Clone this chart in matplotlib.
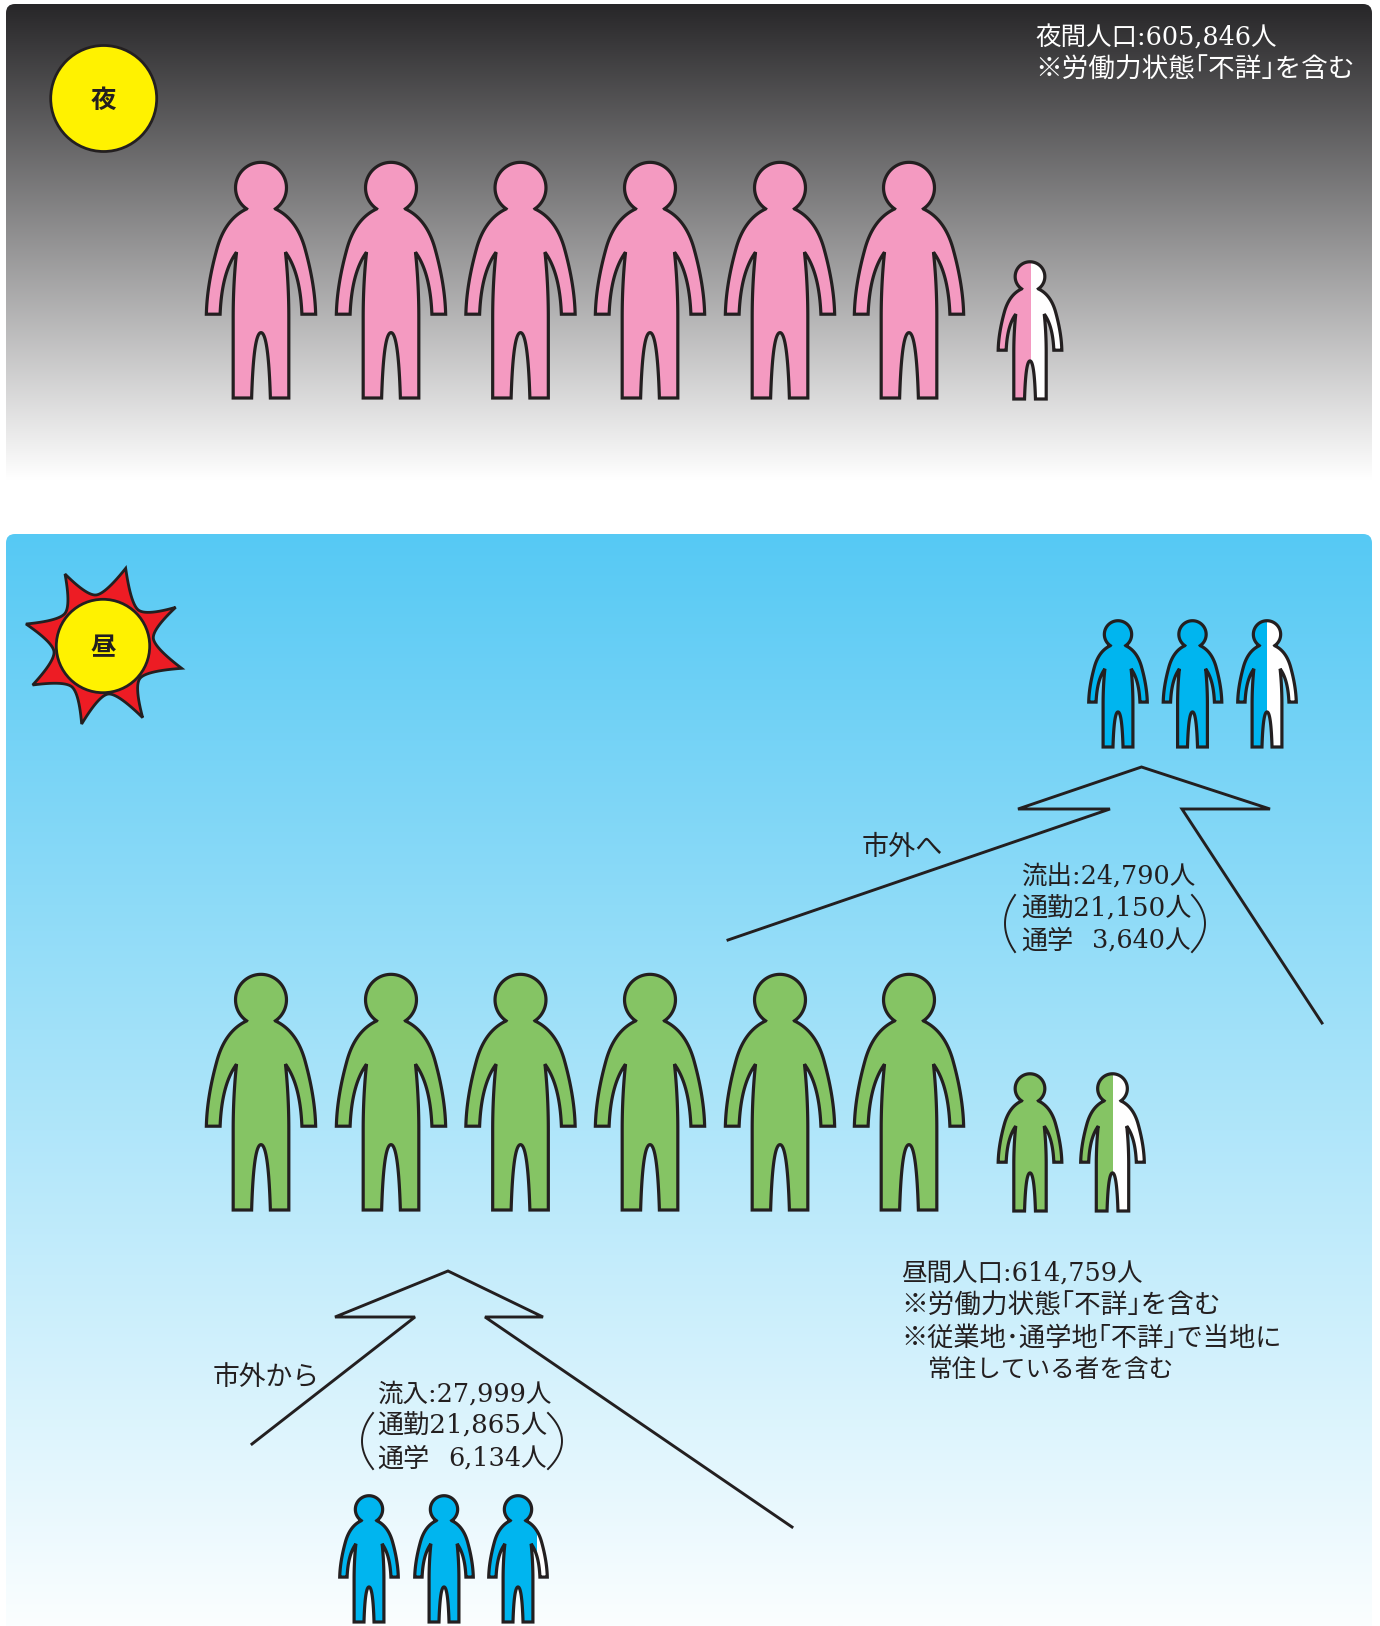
import numpy as np
import matplotlib
matplotlib.use('Agg')
import matplotlib.pyplot as plt
from matplotlib.path import Path
from matplotlib.patches import PathPatch, Circle, Rectangle, FancyBboxPatch

plt.rcParams['font.family'] = ['DejaVu Serif', 'Noto Sans CJK JP']

# How much of each icon is coloured (big icon = 100,000, small icon = 10,000)
night_big = [1, 1, 1, 1, 1, 1]
night_small = [0.51]
day_big = [1, 1, 1, 1, 1, 1]
day_small = [1, 0.50]
outflow_icons = [1, 1, 0.50]
inflow_icons = [1, 1, 0.82]

# halfwidth brackets and dot, the reference sets them narrow
night_labels = ['夜間人口:605,846人', '※労働力状態｢不詳｣を含む']
day_labels = ['昼間人口:614,759人', '※労働力状態｢不詳｣を含む',
              '※従業地･通学地｢不詳｣で当地に', '常住している者を含む']
outflow_labels = ['流出:24,790人', '通勤21,150人', '通学', '3,640人']
inflow_labels = ['流入:27,999人', '通勤21,865人', '通学', '6,134人']

INK = '#231f20'
PINK = '#f49ac1'
GREEN = '#85c464'
BLUE = '#00b5ef'
FONT = 18.4
LW = 2.3


def qbez(p0, c, p1, n=24):
    t = np.linspace(0, 1, n)[:, None]
    p0, c, p1 = np.array(p0, float), np.array(c, float), np.array(p1, float)
    return (1 - t) ** 2 * p0 + 2 * t * (1 - t) * c + t ** 2 * p1


def person_outline():
    # right half traced off the big icon, measured in 3x pixels from top centre
    cx, cy, r = 0, 80, 76
    neck = np.array([43, 143])
    a0 = np.arctan2(neck[1] - cy, neck[0] - cx)
    ang = np.linspace(-np.pi / 2, a0, 40)
    head = np.column_stack([cx + r * np.cos(ang), cy + r * np.sin(ang)])
    parts = [
        head,
        qbez((43, 143), (105, 172), (130, 257)),
        qbez((130, 257), (161, 367), (163, 457)),
        np.array([[122, 457]]),
        qbez((122, 457), (117, 332), (73, 272)),
        qbez((73, 272), (83, 367), (83, 467)),
        np.array([[83, 707], [28, 707]]),
        qbez((28, 707), (22, 512), (0, 512)),
    ]
    right = np.vstack(parts)
    left = right[::-1].copy()
    left[:, 0] *= -1
    return np.vstack([right, left[1:-1]]) / 3.0


OUTLINE = person_outline()


def draw_person(ax, x, top, height, color, fill=1.0, lw=LW):
    s = height / (707 / 3.0)
    pts = OUTLINE * s + [x, top]
    closed = np.vstack([pts, pts[0]])
    path = Path(closed, closed=True)
    ax.add_patch(PathPatch(path, fc='white', ec='none', zorder=3))
    body = PathPatch(path, fc=color, ec='none', zorder=4)
    ax.add_patch(body)
    if fill < 1:
        x0, x1 = pts[:, 0].min(), pts[:, 0].max()
        clip = Rectangle((x0 - 1, top - 1), (x1 - x0) * fill + 1, height + 2,
                         transform=ax.transData)
        body.set_clip_path(clip)
    ax.add_patch(PathPatch(path, fc='none', ec=INK, lw=lw, zorder=5,
                           joinstyle='miter'))


def draw_row(ax, xs, top, height, color, fills):
    for x, f in zip(xs, fills):
        draw_person(ax, x, top, height, color, f)


def gradient_panel(ax, x0, y0, x1, y1, top_color, bottom_color):
    c0 = np.array(matplotlib.colors.to_rgb(top_color))
    c1 = np.array(matplotlib.colors.to_rgb(bottom_color))
    t = np.linspace(0, 1, 512)[:, None, None]
    img = c0[None, None, :] * (1 - t) + c1[None, None, :] * t
    im = ax.imshow(img, extent=(x0, x1, y1, y0), aspect='auto', zorder=1,
                   interpolation='bilinear')
    box = FancyBboxPatch((x0 + 9, y0 + 9), x1 - x0 - 18, y1 - y0 - 9 + 40,
                         boxstyle='round,pad=9,rounding_size=9', fc='none',
                         ec='none', transform=ax.transData)
    ax.add_patch(box)
    im.set_clip_path(box)


def draw_paren(ax, x_near, x_far, y0, y1):
    curve = qbez((x_near, y0), (2 * x_far - x_near, (y0 + y1) / 2), (x_near, y1))
    ax.plot(curve[:, 0], curve[:, 1], color=INK, lw=1.4, zorder=6)


def draw_sun(ax):
    peaks = np.array([(347, 55), (497, 172), (515, 355), (398, 503),
                      (215, 522), (68, 405), (48, 222), (165, 72)], float)
    valleys = np.array([(385, 180), (430, 265), (390, 385), (295, 432),
                        (185, 410), (132, 305), (165, 190), (258, 135)], float)
    pts = []
    for i in range(8):
        p0, p1, v = peaks[i], peaks[(i + 1) % 8], valleys[i]
        # flat through the valley, then nearly straight out to the points
        tangent = (p1 - p0) * 0.15
        pts.append(qbez(p0, v - tangent, v, 14))
        pts.append(qbez(v, v + tangent, p1, 14))
    pts = np.vstack(pts) / 3.0 + [10, 550]
    pts = np.vstack([pts, pts[0]])
    ax.add_patch(PathPatch(Path(pts, closed=True), fc='#ed1c24', ec=INK, lw=2.0,
                           zorder=3, joinstyle='miter'))
    ax.add_patch(Circle((103, 646), 46.7, fc='#fff200', ec=INK, lw=2.0, zorder=4))
    ax.text(103, 648, '昼', fontsize=FONT, fontweight='bold', color=INK,
            family='Noto Sans CJK JP', ha='center', va='center', zorder=6)


def txt(ax, x, y, s, color=INK, ha='left', size=FONT):
    ax.text(x, y + 2, s, fontsize=size, color=color, ha=ha, va='center', zorder=6)


def main():
    fig = plt.figure(figsize=(13.8, 16.26), dpi=100)
    ax = fig.add_axes([0, 0, 1, 1])

    gradient_panel(ax, 6, 4, 1372, 480, '#272628', '#ffffff')
    gradient_panel(ax, 6, 534, 1372, 1626, '#56c9f4', '#fbfeff')

    big_xs = [261, 391, 520.5, 650, 780, 909]

    # night
    ax.add_patch(Circle((103.7, 98.5), 53, fc='#fff200', ec=INK, lw=2.0, zorder=4))
    ax.text(103.7, 100.5, '夜', fontsize=FONT, fontweight='bold', color=INK,
            family='Noto Sans CJK JP', ha='center', va='center', zorder=6)
    draw_row(ax, big_xs, 161, 237, PINK, night_big)
    draw_row(ax, [1030], 261, 138, PINK, night_small)
    txt(ax, 1035, 36, night_labels[0], 'white')
    txt(ax, 1035, 68, night_labels[1], 'white', size=19.15)

    # day
    draw_sun(ax)
    draw_row(ax, big_xs, 973, 237, GREEN, day_big)
    draw_row(ax, [1030, 1112.5], 1073, 138, GREEN, day_small)
    txt(ax, 901, 1272, day_labels[0])
    txt(ax, 901, 1304, day_labels[1], size=19.15)
    txt(ax, 901, 1336, day_labels[2], size=18.9)
    txt(ax, 928, 1368, day_labels[3], size=17.7)

    # outflow
    draw_row(ax, [1118, 1192.5, 1267], 620, 127, BLUE, outflow_icons)
    ax.plot([728, 1110, 1018, 1141.5, 1270, 1182, 1322],
            [940, 809, 809, 767, 809, 809, 1023], color=INK, lw=2.1, zorder=2,
            solid_joinstyle='miter')
    txt(ax, 861.6, 845, '市外へ', size=19.5)
    txt(ax, 1021, 875, outflow_labels[0])
    txt(ax, 1021, 907, outflow_labels[1], size=18.8)
    txt(ax, 1021, 939, outflow_labels[2], size=18.8)
    txt(ax, 1190, 939, outflow_labels[3], ha='right')
    draw_paren(ax, 1015, 1005, 895, 952)
    draw_paren(ax, 1192, 1205, 895, 952)

    # inflow
    draw_row(ax, [369, 444, 518], 1495, 127, BLUE, inflow_icons)
    ax.plot([252, 415, 335, 448, 543, 485, 792],
            [1444, 1317, 1317, 1271, 1317, 1317, 1527], color=INK, lw=2.1, zorder=2,
            solid_joinstyle='miter')
    txt(ax, 212.5, 1375, '市外から', size=19.3)
    txt(ax, 377, 1392, inflow_labels[0])
    txt(ax, 377, 1424, inflow_labels[1], size=18.8)
    txt(ax, 377, 1457, inflow_labels[2], size=18.8)
    txt(ax, 547, 1457, inflow_labels[3], ha='right')
    draw_paren(ax, 373, 362, 1413, 1469)
    draw_paren(ax, 548, 562, 1413, 1469)

    ax.set_xlim(0, 1380)
    ax.set_ylim(1626, 0)
    ax.axis('off')
    fig.savefig('out.png', dpi=100, facecolor='white')


if __name__ == '__main__':
    main()
